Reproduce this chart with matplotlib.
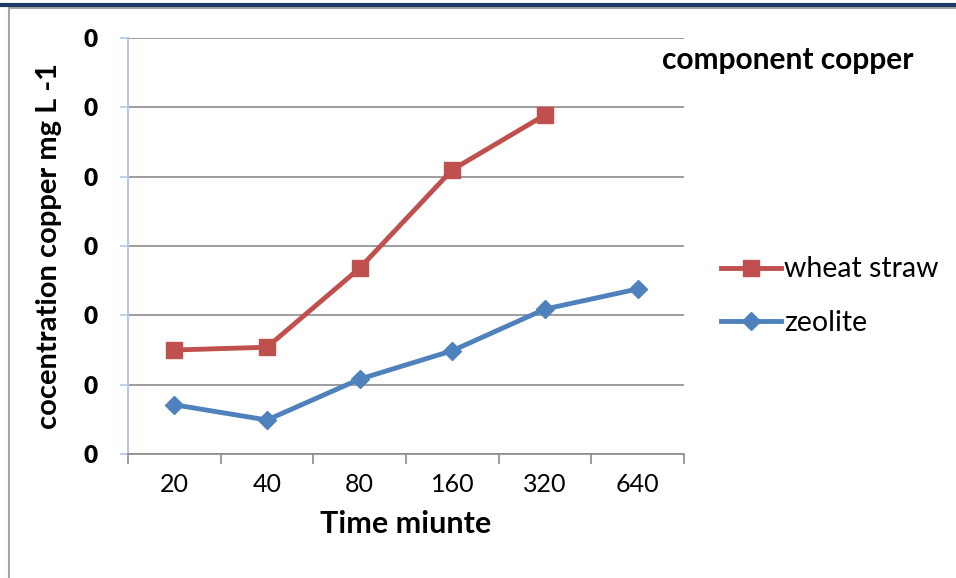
import matplotlib
matplotlib.use("Agg")
import matplotlib.pyplot as plt
from matplotlib.ticker import FuncFormatter
from matplotlib.lines import Line2D
from matplotlib.patches import Rectangle

plt.rcParams['font.family'] = ['Lato', 'DejaVu Sans']

categories = ["20", "40", "80", "160", "320", "640"]
wheat_straw = [0.0150, 0.0154, 0.0268, 0.0410, 0.0489]
zeolite = [0.0071, 0.0049, 0.0108, 0.0149, 0.0209, 0.0238]
y_ticks = [0.0, 0.01, 0.02, 0.03, 0.04, 0.05, 0.06]

fig = plt.figure(figsize=(9.56, 5.78), dpi=100)
fig.patch.set_facecolor("white")

# page decorations
fig.add_artist(Line2D([0, 1], [1 - 5/578, 1 - 5/578], color="#1f3864", lw=3))
fig.add_artist(Rectangle((9/956, -0.1), 1.2, 1 - 8/578 + 0.1, fill=False,
                         edgecolor="#a6a6a6", lw=1.5, transform=fig.transFigure))

ax = fig.add_axes([128/956, 1 - 454/578, 556/956, 416/578])
x = list(range(len(categories)))

ax.plot(x[:len(wheat_straw)], wheat_straw, color="#c0504d", lw=3.5, marker="s",
        markersize=12, label="wheat straw", solid_joinstyle="round")
ax.plot(x, zeolite, color="#4f81bd", lw=3.5, marker="D", markersize=9,
        label="zeolite", solid_joinstyle="round")

ax.set_xlim(-0.5, len(categories) - 0.5)
ax.set_ylim(0, 0.06)
ax.set_yticks(y_ticks)
ax.yaxis.set_major_formatter(FuncFormatter(lambda v, p: f"{v:.0f}"))
ax.grid(axis="y", color="#8c8c8c", lw=1.2)
ax.set_axisbelow(True)

ax.set_xticks(x)
ax.set_xticklabels(categories, fontsize=18)
ax.set_xticks([i - 0.5 for i in range(len(categories) + 1)], minor=True)
ax.tick_params(axis="x", which="major", length=0, pad=14)
ax.tick_params(axis="x", which="minor", length=7, color="#8c8c8c", width=1.2)
ax.tick_params(axis="y", length=6, color="#b4c7e7", width=1.2, pad=16)
for lab in ax.get_yticklabels():
    lab.set_fontweight("heavy")
    lab.set_fontsize(17.5)

for s in ["top", "right"]:
    ax.spines[s].set_visible(False)
ax.spines["bottom"].set_color("#8c8c8c")
ax.spines["bottom"].set_linewidth(1.2)
ax.spines["left"].set_color("#b4c7e7")
ax.spines["left"].set_linewidth(1.5)

ax.set_xlabel("Time miunte", fontsize=22, fontweight="bold", labelpad=10)
ax.set_ylabel("cocentration copper mg L -1", fontsize=21, fontweight="bold", labelpad=15)

fig.text(788/956, 1 - 60/578, "component copper", fontsize=21.5, fontweight="bold",
         ha="center", va="center")

handles, labels = ax.get_legend_handles_labels()
fig.legend(handles, labels, loc="center left", bbox_to_anchor=(721/956, 1 - 296/578),
           frameon=False, fontsize=20.5, handlelength=2.1, handletextpad=0.1,
           labelspacing=0.95, borderpad=0, borderaxespad=0)

fig.savefig("out.png", dpi=100)
